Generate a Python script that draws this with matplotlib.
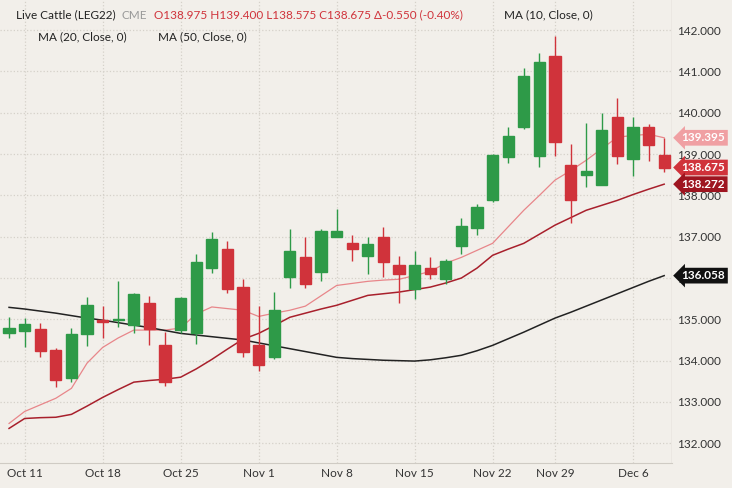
import matplotlib.pyplot as plt
from matplotlib.patches import Rectangle

plt.rcParams["font.family"] = "Lato"

# Live Cattle (LEG22) daily candles, Oct 8 - Dec 8
opens = [134.68, 134.71, 134.76, 134.25, 133.57, 134.64, 134.99, 134.98, 134.86, 135.39, 134.37,
         134.74, 134.66, 136.24, 136.70, 135.78, 134.37, 134.08, 136.02, 136.50, 136.14, 136.99,
         136.84, 136.53, 136.99, 136.31, 135.73, 136.24, 135.97, 136.77, 137.21, 137.88, 138.92,
         139.65, 138.95, 141.37, 138.73, 138.49, 138.25, 139.90, 138.88, 139.65, 138.975]
closes = [134.79, 134.88, 134.23, 133.53, 134.64, 135.34, 134.93, 135.00, 135.61, 134.76, 133.48,
          135.51, 136.38, 136.94, 135.73, 134.20, 133.89, 135.22, 136.65, 135.85, 137.13, 137.13,
          136.70, 136.82, 136.38, 136.09, 136.31, 136.09, 136.41, 137.25, 137.71, 138.97, 139.43,
          140.89, 141.23, 139.29, 137.88, 138.59, 139.58, 138.95, 139.65, 139.22, 138.675]
highs = [135.05, 135.03, 134.90, 134.30, 134.78, 135.54, 135.32, 135.92, 135.63, 135.56, 134.69,
         135.55, 136.58, 137.11, 136.89, 135.97, 135.32, 135.66, 137.18, 136.99, 137.18, 137.67,
         137.04, 136.99, 137.23, 136.53, 136.65, 136.50, 136.45, 137.45, 137.78, 139.00, 139.65,
         141.08, 141.44, 141.85, 139.24, 139.75, 139.99, 140.36, 139.90, 139.72, 139.40]
lows = [134.54, 134.32, 134.08, 133.36, 133.48, 134.35, 134.54, 134.81, 134.66, 134.37, 133.38,
        134.66, 134.40, 136.12, 135.63, 134.08, 133.74, 134.03, 135.75, 135.75, 135.92, 136.99,
        136.41, 136.09, 136.02, 135.39, 135.49, 135.97, 135.85, 136.58, 137.05, 137.85, 138.78,
        139.60, 138.68, 138.95, 137.33, 138.20, 138.25, 138.76, 138.46, 138.83, 138.575]
ma10 = [132.48, 132.77, 132.93, 133.09, 133.33, 133.94, 134.32, 134.55, 134.74, 134.74, 134.74,
        134.79, 135.13, 135.30, 135.26, 135.22, 135.07, 135.15, 135.22, 135.32, 135.57, 135.82,
        135.87, 135.92, 135.95, 135.97, 136.06, 136.16, 136.36, 136.50, 136.67, 136.84, 137.24,
        137.64, 138.00, 138.37, 138.60, 138.85, 139.13, 139.41, 139.45, 139.48, 139.395]
ma20 = [132.36, 132.60, 132.62, 132.63, 132.70, 132.90, 133.11, 133.30, 133.48, 133.52, 133.55,
        133.60, 133.80, 134.03, 134.28, 134.52, 134.66, 134.85, 135.05, 135.15, 135.25, 135.34,
        135.46, 135.58, 135.62, 135.66, 135.72, 135.78, 135.88, 136.00, 136.24, 136.55, 136.70,
        136.84, 137.06, 137.28, 137.46, 137.64, 137.76, 137.88, 138.02, 138.15, 138.272]
ma50 = [135.29, 135.25, 135.20, 135.15, 135.09, 135.03, 134.98, 134.92, 134.86, 134.80, 134.73,
        134.66, 134.62, 134.58, 134.54, 134.50, 134.43, 134.36, 134.29, 134.22, 134.15, 134.08,
        134.05, 134.03, 134.01, 134.00, 133.99, 134.02, 134.07, 134.13, 134.24, 134.37, 134.53,
        134.69, 134.86, 135.03, 135.17, 135.32, 135.47, 135.62, 135.77, 135.92, 136.058]
tick_pos = [1, 6, 11, 16, 21, 26, 31, 35, 40]
tick_labels = ["Oct 11", "Oct 18", "Oct 25", "Nov 1", "Nov 8", "Nov 15", "Nov 22", "Nov 29", "Dec 6"]

GREEN = "#2e9a48"
RED = "#d0333b"
BG = "#f2efea"

fig = plt.figure(figsize=(7.32, 4.88), dpi=100, facecolor=BG)
ax = fig.add_axes([0, 0.051, 0.918, 0.949])
ax.set_facecolor(BG)

x = list(range(len(opens)))
for i in x:
    up = closes[i] >= opens[i]
    c = GREEN if up else RED
    ax.vlines(i, lows[i], highs[i], color=c, lw=1, zorder=3)
    lo = min(opens[i], closes[i])
    h = max(abs(closes[i] - opens[i]), 0.04)
    ax.add_patch(Rectangle((i - 0.36, lo), 0.72, h, color=c, zorder=4))

ax.plot(x, ma10, color="#e8868a", lw=0.9, zorder=2)
ax.plot(x, ma20, color="#a8202c", lw=1.1, zorder=2)
ax.plot(x, ma50, color="#222222", lw=1.1, zorder=2)

ax.set_xlim(-0.58, 42.5)
ax.set_ylim(131.52, 142.73)
ax.set_xticks(tick_pos)
ax.set_xticklabels(tick_labels)
ax.set_yticks(range(132, 143))
ax.set_yticklabels([f"{v}.000" for v in range(132, 143)])
ax.yaxis.tick_right()
ax.tick_params(length=0, labelsize=8.5, colors="#333333")
ax.grid(True, color="#d5d1ca", ls=":", lw=0.9)
for s in ["top", "left", "right"]:
    ax.spines[s].set_visible(False)
ax.spines["bottom"].set_color("#cfcbc4")
ax.axvline(42.5, color="#cfcbc4", lw=1)

# last-value tags
tags = [(139.395, "#f0a0a3"), (138.675, RED), (138.272, "#9e1520"), (136.058, "#111111")]
for v, c in tags:
    ax.annotate(f"{v:.3f}", xy=(1.0, v), xycoords=("axes fraction", "data"),
                xytext=(7, 0), textcoords="offset points", va="center", ha="left",
                fontsize=8.5, color="white", fontweight="bold",
                bbox=dict(boxstyle="larrow,pad=0.2", fc=c, ec="none"))

# header
fs = 8.5
fig.text(0.022, 0.962, "Live Cattle (LEG22)", fontsize=fs, color="#222222")
fig.text(0.166, 0.962, "CME", fontsize=fs, color="#999999")
fig.text(0.211, 0.962, "O138.975 H139.400 L138.575 C138.675 Δ-0.550 (-0.40%)", fontsize=fs, color=RED)
fig.text(0.688, 0.962, "MA (10, Close, 0)", fontsize=fs, color="#222222")
fig.text(0.052, 0.918, "MA (20, Close, 0)", fontsize=fs, color="#222222")
fig.text(0.216, 0.918, "MA (50, Close, 0)", fontsize=fs, color="#222222")

fig.savefig("out.png", dpi=100, facecolor=BG)
